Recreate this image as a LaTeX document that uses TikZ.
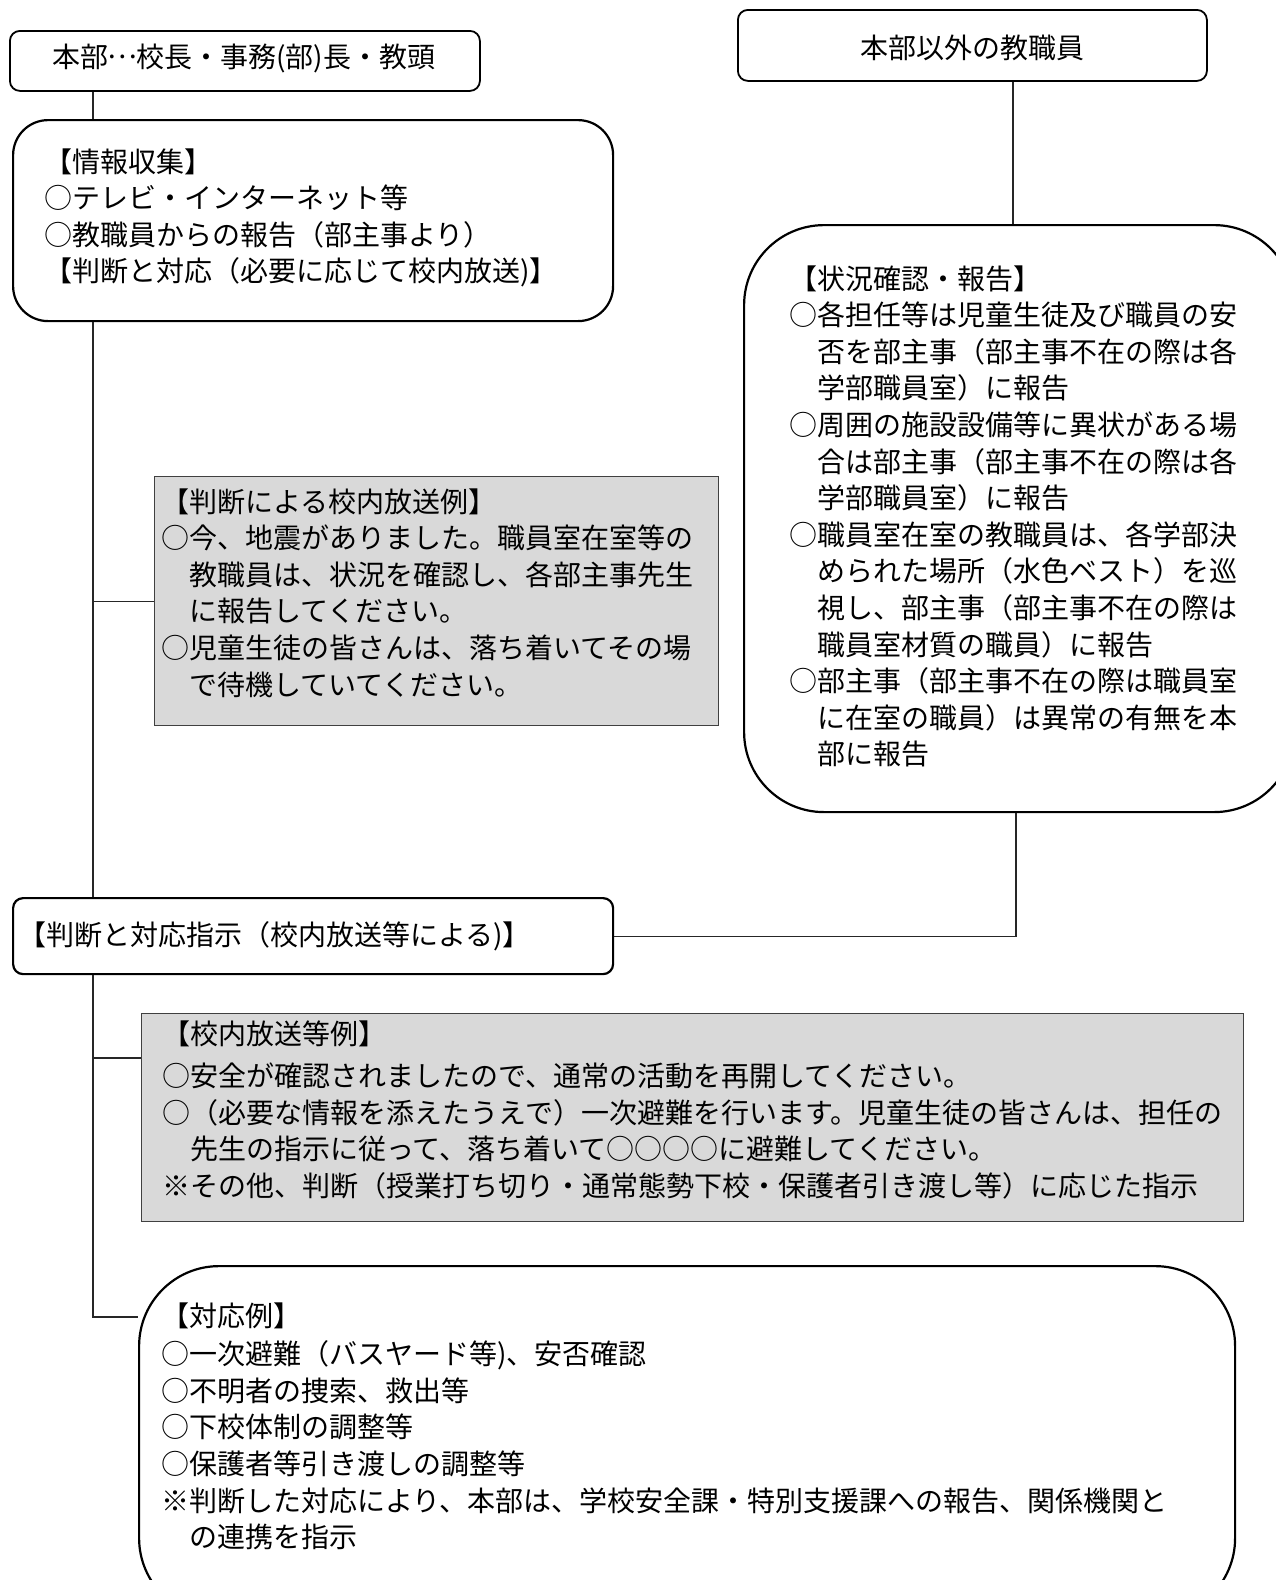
\documentclass[tikz,border=0pt]{standalone}
\usepackage{fontspec}
\setmainfont{Noto Sans CJK JP}
\newcommand\jpfont{\fontsize{28}{36.6}\selectfont}
\newcommand\midellip{\makebox[1em]{\raisebox{0.3em}{…}}}
\definecolor{graybg}{HTML}{D9D9D9}
\definecolor{grayline}{HTML}{404040}
\begin{document}
\begin{tikzpicture}[x=1pt,y=-1pt,
  sbox/.style={draw=black, line width=1.8pt, rounded corners=10pt, minimum width=#1, inner sep=0pt, anchor=north west},
  rbox/.style={draw=black, line width=2.2pt, rounded corners=35pt, inner sep=0pt, anchor=north west},
  bigbox/.style={draw=black, line width=2.2pt, rounded corners=80pt, inner sep=0pt, anchor=north west},
  graybox/.style={draw=grayline, fill=graybg, line width=1.2pt, inner sep=0pt, anchor=north west},
  conn/.style={draw=black!85, line width=1.1pt},
  txt/.style={inner sep=0pt, anchor=base west, font=\jpfont},
  ctxt/.style={inner sep=0pt, anchor=base, font=\jpfont}]
\useasboundingbox (0,0) rectangle (1276,1580);
\clip (0,0) rectangle (1276,1580);
\fill[white] (0,0) rectangle (1276,1580);

% boxes
\node[sbox=470pt, minimum height=60pt] (b1) at (9,30) {};
\node[sbox=469pt, minimum height=71pt] (b4) at (737,9) {};
\node[rbox, minimum width=600pt, minimum height=201pt] (b2) at (12,119) {};
\node[bigbox, minimum width=550pt, minimum height=587pt] (rbig) at (743,224) {};
\node[graybox, minimum width=564pt, minimum height=249pt] (g1) at (154,476) {};
\node[sbox=600pt, minimum height=76pt, line width=2.2pt] (b3) at (12,897) {};
\node[graybox, minimum width=1102pt, minimum height=208pt] (g2) at (141,1013) {};
\node[bigbox, minimum width=1096pt, minimum height=352pt] (b5) at (138,1265) {};

% connector helpers
\coordinate (lx) at (93,0);
\coordinate (rx) at (1013,0);
\coordinate (rx2) at (1016,0);
\coordinate (j2) at (141,1058);
\coordinate (j5) at (138,1317);

\draw[conn] (lx |- b1.south) -- (lx |- b2.north);
\draw[conn] (lx |- b2.south) -- (lx |- b3.north);
\draw[conn] (lx |- g1.west) -- (g1.west);
\draw[conn] (lx |- b3.south) -- (lx |- j5) -- (j5);
\draw[conn] (lx |- j2) -- (j2);
\draw[conn] (rx |- b4.south) -- (rx |- rbig.north);
\draw[conn] (rx2 |- rbig.south) -- (rx2 |- b3.east) -- (b3.east);

% texts
\node[ctxt] (t1) at (244,67) {本部\midellip 校長・事務(部)長・教頭};
\node[ctxt] (t4) at (972,58) {本部以外の教職員};

\node[txt] (t2) at (44,172) {\parbox[t]{580pt}{%
【情報収集】\\
○テレビ・インターネット等\\
○教職員からの報告（部主事より）\\
【判断と対応（必要に応じて校内放送)】}};

\node[txt] (tr) at (789,289) {\parbox[t]{480pt}{%
【状況確認・報告】\\
○各担任等は児童生徒及び職員の安\\
\hspace*{1em}否を部主事（部主事不在の際は各\\
\hspace*{1em}学部職員室）に報告\\
○周囲の施設設備等に異状がある場\\
\hspace*{1em}合は部主事（部主事不在の際は各\\
\hspace*{1em}学部職員室）に報告\\
○職員室在室の教職員は、各学部決\\
\hspace*{1em}められた場所（水色ベスト）を巡\\
\hspace*{1em}視し、部主事（部主事不在の際は\\
\hspace*{1em}職員室材質の職員）に報告\\
○部主事（部主事不在の際は職員室\\
\hspace*{1em}に在室の職員）は異常の有無を本\\
\hspace*{1em}部に報告}};

\node[txt] (tg1) at (161,512) {\parbox[t]{560pt}{%
【判断による校内放送例】\\
○今、地震がありました。職員室在室等の\\
\hspace*{1em}教職員は、状況を確認し、各部主事先生\\
\hspace*{1em}に報告してください。\\
○児童生徒の皆さんは、落ち着いてその場\\
\hspace*{1em}で待機していてください。}};

\node[txt] (t3) at (18,945) {【判断と対応指示（校内放送等による)】};

\node[txt] (tg2) at (162,1044) {\parbox[t]{1100pt}{%
【校内放送等例】\\[6pt]
○安全が確認されましたので、通常の活動を再開してください。\\
○（必要な情報を添えたうえで）一次避難を行います。児童生徒の皆さんは、担任の\\
\hspace*{1em}先生の指示に従って、落ち着いて○○○○に避難してください。\\
※その他、判断（授業打ち切り・通常態勢下校・保護者引き渡し等）に応じた指示}};

\node[txt] (t5) at (161,1326) {\parbox[t]{1080pt}{%
【対応例】\\[2pt]
○一次避難（バスヤード等)、安否確認\\
○不明者の捜索、救出等\\
○下校体制の調整等\\
○保護者等引き渡しの調整等\\
※判断した対応により、本部は、学校安全課・特別支援課への報告、関係機関と\\
\hspace*{1em}の連携を指示}};
\end{tikzpicture}
\end{document}
